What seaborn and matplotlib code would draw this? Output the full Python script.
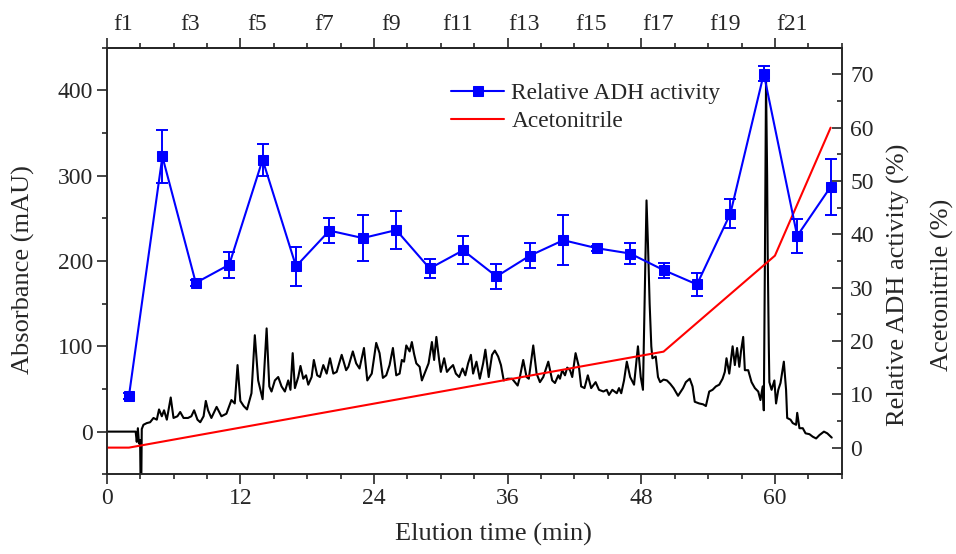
import matplotlib
matplotlib.use("Agg")
import matplotlib.pyplot as plt
from matplotlib.ticker import MultipleLocator
import seaborn as sns

# UV trace (absorbance, mAU)
trace_time = [0.0, 2.6, 2.7, 2.8, 2.9, 3.0, 3.05, 3.1, 3.15, 3.3, 3.6, 3.9, 4.2, 4.5,
              4.7, 4.95, 5.15, 5.4, 5.75, 6.0, 6.35, 6.6, 6.9, 7.3, 7.6, 7.85, 8.15,
              8.4, 8.7, 8.9, 9.1, 9.4, 9.87, 10.3, 10.75, 11.2, 11.5, 11.75, 12.0,
              12.3, 12.6, 13.0, 13.3, 13.6, 14.0, 14.36, 14.6, 14.8, 15.1, 15.4, 15.7,
              16.0, 16.3, 16.5, 16.7, 16.9, 17.2, 17.4, 17.65, 17.9, 18.1, 18.4, 18.6,
              18.9, 19.15, 19.45, 19.75, 20.05, 20.35, 20.65, 21.1, 21.5, 21.7, 22.1,
              22.4, 22.7, 23.1, 23.4, 23.8, 24.2, 24.5, 24.8, 25.1, 25.4, 25.7, 26.0,
              26.3, 26.5, 26.7, 26.9, 27.2, 27.4, 27.6, 27.8, 28.1, 28.3, 28.6, 28.9,
              29.2, 29.4, 29.6, 29.85, 30.0, 30.3, 30.55, 30.8, 31.1, 31.35, 31.65,
              31.95, 32.2, 32.45, 32.7, 32.9, 33.2, 33.5, 33.8, 34.0, 34.3, 34.6,
              34.85, 35.15, 35.4, 35.65, 36.0, 36.4, 36.9, 37.1, 37.4, 37.7, 37.9,
              38.3, 38.6, 38.9, 39.2, 39.65, 40.0, 40.25, 40.55, 40.7, 40.9, 41.15,
              41.35, 41.6, 41.8, 42.1, 42.4, 42.6, 42.9, 43.2, 43.5, 43.9, 44.2, 44.6,
              44.9, 45.1, 45.4, 45.8, 46.0, 46.2, 46.45, 46.7, 47.0, 47.35, 47.7,
              47.95, 48.15, 48.3, 48.47, 48.6, 48.75, 48.9, 49.0, 49.3, 49.5, 49.7,
              50.0, 50.3, 50.6, 50.9, 51.3, 51.75, 52.0, 52.35, 52.6, 52.8, 53.2,
              53.55, 53.8, 54.1, 54.4, 54.7, 55.0, 55.3, 55.5, 55.65, 55.9, 56.2,
              56.4, 56.6, 56.8, 56.95, 57.15, 57.3, 57.6, 57.9, 58.2, 58.5, 58.7,
              58.9, 59.0, 59.1, 59.2, 59.3, 59.35, 59.45, 59.5, 59.7, 59.95, 60.1,
              60.3, 60.5, 60.8, 61.0, 61.1, 61.4, 61.6, 61.9, 62.0, 62.2, 62.5, 62.75,
              63.1, 63.4, 63.7, 64.0, 64.4, 64.7, 65.1]
trace_mau = [0, 0, -12, 4, -14, -10, -70, -70, 3, 8, 10, 11, 16, 14,
             26, 18, 25, 14, 40, 16, 18, 23, 16, 16, 18, 25, 14,
             11, 18, 36, 25, 16, 29, 18, 21, 37, 33, 78, 36,
             30, 26, 45, 113, 60, 38, 121, 53, 47, 60, 64, 53,
             47, 60, 49, 92, 51, 64, 77, 62, 66, 55, 64, 84,
             66, 64, 78, 68, 86, 68, 70, 90, 72, 76, 94,
             80, 74, 98, 60, 68, 104, 92, 63, 66, 78, 98, 66,
             68, 84, 82, 101, 94, 105, 91, 80, 76, 60, 70, 80,
             105, 84, 111, 84, 70, 86, 70, 74, 78, 68, 64,
             74, 66, 80, 90, 68, 82, 62, 80, 96, 64, 90,
             95, 88, 78, 60, 62, 62, 54, 64, 84, 64, 62,
             101, 68, 58, 64, 82, 60, 57, 66, 62, 72, 66,
             75, 72, 64, 92, 76, 53, 51, 66, 51, 58, 49, 47,
             49, 43, 49, 45, 51, 45, 60, 82, 64, 55, 100,
             64, 49, 150, 271, 220, 150, 100, 86, 88, 64, 58,
             61, 60, 56, 51, 42, 51, 58, 62, 53, 35, 33,
             32, 30, 47, 49, 53, 55, 62, 70, 86, 68, 100,
             78, 98, 76, 94, 111, 72, 72, 58, 51, 47, 37,
             53, 25, 200, 410, 300, 210, 100, 58, 49, 60, 33,
             49, 57, 82, 49, 16, 14, 10, 8, 22, 4, 4, -2,
             -3, -6, -8, -4, 0, -2, -7]

# relative ADH activity per fraction (%)
adh_time = [2, 5, 8, 11, 14, 17, 20, 23, 26, 29, 32, 35, 38, 41, 44, 47, 50, 53, 56, 59, 62, 65]
adh_activity = [9.7, 54.6, 30.9, 34.3, 54.0, 34.0, 40.7, 39.3, 40.8, 33.6, 37.0,
                32.1, 36.0, 38.9, 37.4, 36.4, 33.3, 30.6, 43.9, 70.1, 39.7, 48.9]
adh_err = [0.6, 4.9, 0.5, 2.4, 3.0, 3.6, 2.3, 4.3, 3.6, 1.7, 2.6,
           2.3, 2.3, 4.7, 0.5, 2.0, 1.4, 2.2, 2.8, 1.4, 3.2, 5.2]

# acetonitrile gradient (%)
acn_time = [0, 2, 50, 60, 65]
acn_pct = [0, 0, 18, 36, 60]

# fraction labels on top axis
frac_pos = [1.5, 7.5, 13.5, 19.5, 25.5, 31.5, 37.5, 43.5, 49.5, 55.5, 61.5]
frac_labels = ["f1", "f3", "f5", "f7", "f9", "f11", "f13", "f15", "f17", "f19", "f21"]

sns.set_style("ticks")
plt.rcParams["font.family"] = ["Liberation Serif", "DejaVu Serif"]
plt.rcParams["axes.linewidth"] = 1.2

fig = plt.figure(figsize=(9.56, 5.54), dpi=100)
ax = fig.add_axes([0.1116, 0.1439, 0.7689, 0.77])

sns.lineplot(x=trace_time, y=trace_mau, ax=ax, color="black", linewidth=1.5,
             sort=False)
ax.set_xlim(0, 66)
ax.set_ylim(-50, 450)
ax.xaxis.set_major_locator(MultipleLocator(12))
ax.xaxis.set_minor_locator(MultipleLocator(3))
ax.yaxis.set_major_locator(MultipleLocator(100))
ax.yaxis.set_minor_locator(MultipleLocator(50))
ax.set_yticks([0, 100, 200, 300, 400])
ax.tick_params(axis="both", which="major", direction="out", length=7, width=1.2,
               labelsize=17, pad=3)
ax.tick_params(axis="both", which="minor", direction="out", length=3.5, width=1.2)
ax.tick_params(axis="x", top=True, which="both")
ax.set_xlabel("Elution time (min)", fontsize=19)
ax.xaxis.set_label_coords(0.526, -0.115)
ax.set_ylabel("Absorbance (mAU)", fontsize=19)
ax.yaxis.set_label_coords(-0.098, 0.48)

top = ax.secondary_xaxis("top")
top.set_xticks(frac_pos, labels=frac_labels)
top.tick_params(length=0, labelsize=17, pad=9)

ax2 = ax.twinx()
sns.lineplot(x=acn_time, y=acn_pct, ax=ax2, color="red", linewidth=1.5,
             label="Acetonitrile")
ax2.errorbar(adh_time, adh_activity, yerr=adh_err, fmt="none", ecolor="blue",
             elinewidth=1.4, capsize=4, capthick=1.4)
sns.lineplot(x=adh_time, y=adh_activity, ax=ax2, color="blue", linewidth=1.5,
             marker="s", markersize=6.5, markeredgecolor="blue",
             label="Relative ADH activity")
ax2.set_ylim(-5, 75)
ax2.yaxis.set_major_locator(MultipleLocator(10))
ax2.yaxis.set_minor_locator(MultipleLocator(5))
ax2.set_yticks([0, 10, 20, 30, 40, 50, 60, 70])
ax2.tick_params(axis="y", which="major", direction="in", length=7, width=1.2,
                labelsize=17, pad=6)
ax2.tick_params(axis="y", which="minor", direction="in", length=3.5, width=1.2)
ax2.set_ylabel("")
ax2.set_xlabel("")

handles, labels = ax2.get_legend_handles_labels()
order = [labels.index("Relative ADH activity"), labels.index("Acetonitrile")]
ax2.legend([handles[i] for i in order], [labels[i] for i in order],
           loc="upper left", bbox_to_anchor=(0.468, 0.918), frameon=False,
           fontsize=16.8, handlelength=2.3, handletextpad=0.3, labelspacing=0.28,
           borderpad=0, borderaxespad=0)

fig.text(0.940, 0.486, "Relative ADH activity (%)", rotation=90, ha="center",
         va="center", fontsize=19)
fig.text(0.986, 0.486, "Acetonitrile (%)", rotation=90, ha="center",
         va="center", fontsize=19)

fig.savefig("out.png", dpi=100)
